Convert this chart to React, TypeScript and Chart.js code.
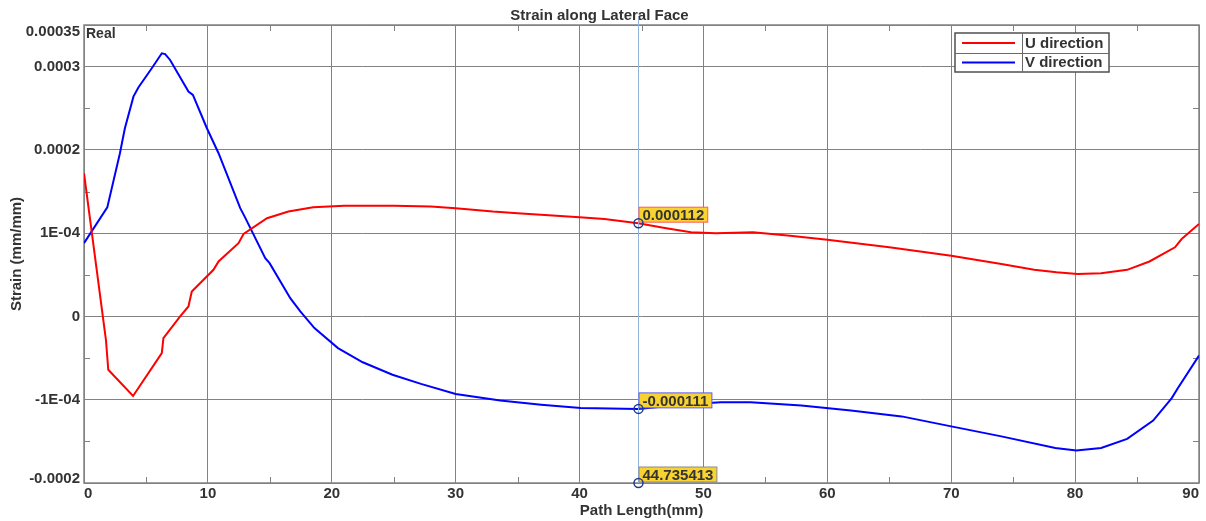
import React, { useEffect, useRef } from 'react';
import { Chart, registerables } from 'chart.js';

Chart.register(...registerables);

const chartTitle = 'Strain along Lateral Face';
const xAxisTitle = 'Path Length(mm)';
const yAxisTitle = 'Strain (mm/mm)';
const cornerLabel = 'Real';
const seriesNames = ['U direction', 'V direction'];
const seriesColors = ['#ff0000', '#0000ff'];

const uPathX = [0, 1.77, 1.96, 3.96, 6.28, 6.41, 7.76, 8.43, 8.7, 10.45, 10.86, 12.47, 12.88, 14.77, 16.5, 18.5, 21, 25, 28, 30, 33, 35, 40, 42, 44.735, 47, 49, 51, 54, 57, 60, 65, 70, 74.05, 76.7, 78.5, 80.2, 82.1, 84.2, 86.0, 88.06, 88.6, 90];
const uStrain = [1.72e-4, -0.28e-4, -0.64e-4, -0.955e-4, -0.44e-4, -0.26e-4, 0, 0.12e-4, 0.3e-4, 0.56e-4, 0.66e-4, 0.88e-4, 0.99e-4, 1.18e-4, 1.26e-4, 1.31e-4, 1.33e-4, 1.33e-4, 1.32e-4, 1.3e-4, 1.26e-4, 1.24e-4, 1.19e-4, 1.17e-4, 1.12e-4, 1.06e-4, 1.01e-4, 1.0e-4, 1.01e-4, 0.97e-4, 0.92e-4, 0.83e-4, 0.73e-4, 0.63e-4, 0.56e-4, 0.53e-4, 0.51e-4, 0.52e-4, 0.56e-4, 0.66e-4, 0.83e-4, 0.93e-4, 1.11e-4];

const vPathX = [0, 1.88, 2.9, 3.3, 3.99, 4.39, 5.47, 6.28, 6.55, 6.95, 8.43, 8.79, 9.92, 10.86, 12.61, 13.0, 14.63, 14.98, 16.65, 17.46, 18.6, 20.5, 22.5, 24.9, 27.2, 30, 33.6, 36.9, 40.1, 44.735, 48.2, 51.4, 53.8, 57.9, 61.9, 66, 70, 74.05, 78.4, 80.1, 82.1, 84.2, 86.3, 87.8, 88.3, 90];
const vStrain = [0.88e-4, 1.31e-4, 1.96e-4, 2.26e-4, 2.64e-4, 2.75e-4, 2.98e-4, 3.16e-4, 3.15e-4, 3.08e-4, 2.7e-4, 2.66e-4, 2.26e-4, 1.96e-4, 1.3e-4, 1.19e-4, 0.7e-4, 0.64e-4, 0.22e-4, 0.06e-4, -0.14e-4, -0.38e-4, -0.55e-4, -0.7e-4, -0.81e-4, -0.93e-4, -1.01e-4, -1.06e-4, -1.1e-4, -1.11e-4, -1.06e-4, -1.03e-4, -1.03e-4, -1.07e-4, -1.13e-4, -1.2e-4, -1.32e-4, -1.44e-4, -1.58e-4, -1.61e-4, -1.58e-4, -1.47e-4, -1.25e-4, -0.98e-4, -0.86e-4, -0.47e-4];

const xTickValues = [0, 10, 20, 30, 40, 50, 60, 70, 80, 90];
const xMinorTicks = [5, 15, 25, 35, 45, 55, 65, 75, 85];
const yTickValues = [0.00035, 0.0003, 0.0002, 0.0001, 0, -0.0001, -0.0002];
const yTickLabels = ['0.00035', '0.0003', '0.0002', '1E-04', '0', '-1E-04', '-0.0002'];
const yMinorTicks = [0.00025, 0.00015, 0.00005, -0.00005, -0.00015];

const cursorX = 44.735413;
const probeValues = [0.000112, -0.000111, -0.0002];
const probeLabels = ['0.000112', '-0.000111', '44.735413'];
const probeBorders = ['#ff5a5a', '#5a5aff', '#8a8a8a'];

const FONT = '"Liberation Sans", Arial, sans-serif';
const TEXT = '#333333';
const GRID = '#828282';

const overlay = {
  id: 'overlay',
  beforeDatasetsDraw(chart: any) {
    const { ctx, chartArea: a } = chart;
    const xs = chart.scales.x;
    const ys = chart.scales.y;
    ctx.save();
    ctx.strokeStyle = GRID;
    ctx.lineWidth = 1;
    ctx.beginPath();
    yMinorTicks.forEach((v) => {
      const y = Math.round(ys.getPixelForValue(v)) + 0.5;
      ctx.moveTo(a.left, y);
      ctx.lineTo(a.left + 6, y);
      ctx.moveTo(a.right - 6, y);
      ctx.lineTo(a.right, y);
    });
    xMinorTicks.forEach((v) => {
      const x = Math.round(xs.getPixelForValue(v)) + 0.5;
      ctx.moveTo(x, a.top);
      ctx.lineTo(x, a.top + 6);
      ctx.moveTo(x, a.bottom - 6);
      ctx.lineTo(x, a.bottom);
    });
    ctx.stroke();
    ctx.lineWidth = 1.5;
    ctx.strokeRect(a.left, a.top, a.right - a.left, a.bottom - a.top);

    ctx.font = `bold 15px ${FONT}`;
    ctx.fillStyle = TEXT;
    ctx.textAlign = 'right';
    ctx.textBaseline = 'middle';
    yTickValues.forEach((v, i) => {
      let y = ys.getPixelForValue(v);
      y = Math.min(Math.max(y, a.top + 7), a.bottom - 4);
      ctx.fillText(yTickLabels[i], a.left - 4, y);
    });
    ctx.textAlign = 'left';
    ctx.font = `bold 14px ${FONT}`;
    ctx.fillText(cornerLabel, a.left + 2, a.top + 9);
    ctx.restore();
  },
  afterDatasetsDraw(chart: any) {
    const { ctx, chartArea: a } = chart;
    const xs = chart.scales.x;
    const ys = chart.scales.y;
    ctx.save();
    const cx = Math.round(xs.getPixelForValue(cursorX)) + 0.5;
    ctx.strokeStyle = '#94b4e0';
    ctx.lineWidth = 1;
    ctx.beginPath();
    ctx.moveTo(cx, a.top - 8);
    ctx.lineTo(cx, a.bottom);
    ctx.stroke();

    ctx.font = `bold 15px ${FONT}`;
    ctx.textBaseline = 'middle';
    ctx.textAlign = 'left';
    probeValues.forEach((v, i) => {
      const py = ys.getPixelForValue(v);
      const w = ctx.measureText(probeLabels[i]).width + 7;
      const bx = cx + 0.5;
      const by = py - 16;
      ctx.fillStyle = '#f7d230';
      ctx.fillRect(bx, by, w, 15);
      ctx.strokeStyle = probeBorders[i];
      ctx.lineWidth = 1;
      ctx.strokeRect(bx, by, w, 15);
      ctx.fillStyle = TEXT;
      ctx.fillText(probeLabels[i], bx + 3.5, by + 8.5);
      ctx.strokeStyle = '#1c3c8c';
      ctx.lineWidth = 1.5;
      ctx.beginPath();
      ctx.arc(cx, py, 4.5, 0, Math.PI * 2);
      ctx.stroke();
    });

    // legend
    const lx = a.right - 244;
    const ly = a.top + 8;
    const lw = 154;
    const lh = 39;
    const colW = 67;
    ctx.fillStyle = '#ffffff';
    ctx.fillRect(lx, ly, lw, lh);
    ctx.strokeStyle = '#505050';
    ctx.lineWidth = 1.5;
    ctx.strokeRect(lx, ly, lw, lh);
    ctx.lineWidth = 1;
    ctx.strokeStyle = '#6a6a6a';
    ctx.beginPath();
    ctx.moveTo(lx + colW + 0.5, ly);
    ctx.lineTo(lx + colW + 0.5, ly + lh);
    ctx.moveTo(lx, ly + 20.5);
    ctx.lineTo(lx + lw, ly + 20.5);
    ctx.stroke();
    seriesNames.forEach((name, i) => {
      const rowY = ly + 10 + i * 19.5;
      ctx.strokeStyle = seriesColors[i];
      ctx.lineWidth = 2;
      ctx.beginPath();
      ctx.moveTo(lx + 7, rowY);
      ctx.lineTo(lx + 60, rowY);
      ctx.stroke();
      ctx.fillStyle = TEXT;
      ctx.font = `bold 15px ${FONT}`;
      ctx.fillText(name, lx + colW + 3, rowY + 0.5);
    });
    ctx.restore();
  },
};

export default function App() {
  const ref = useRef<HTMLCanvasElement | null>(null);
  useEffect(() => {
    if (!ref.current) return;
    const font = { family: FONT, size: 15, weight: 'bold' as const, lineHeight: 1.2 };
    const chart = new Chart(ref.current, {
      type: 'line',
      data: {
        datasets: [
          {
            label: seriesNames[0],
            data: uPathX.map((x, i) => ({ x, y: uStrain[i] })),
            borderColor: seriesColors[0],
            borderWidth: 2,
            pointRadius: 0,
            tension: 0,
            fill: false,
          },
          {
            label: seriesNames[1],
            data: vPathX.map((x, i) => ({ x, y: vStrain[i] })),
            borderColor: seriesColors[1],
            borderWidth: 2,
            pointRadius: 0,
            tension: 0,
            fill: false,
          },
        ],
      },
      options: {
        responsive: false,
        animation: false,
        events: [],
        layout: { padding: { left: 0, right: 7, top: 0, bottom: 0 } },
        plugins: {
          legend: { display: false },
          tooltip: { enabled: false },
          title: {
            display: true,
            text: chartTitle,
            color: TEXT,
            font,
            padding: { top: 7, bottom: 0 },
          },
        },
        scales: {
          x: {
            type: 'linear',
            min: 0,
            max: 90,
            afterBuildTicks: (s: any) => {
              s.ticks = xTickValues.map((value) => ({ value }));
            },
            afterFit: (s: any) => {
              s.height = 38;
            },
            grid: { color: GRID, lineWidth: 1, drawTicks: false },
            border: { display: false },
            ticks: { font, color: TEXT, padding: 2, align: 'inner', maxRotation: 0, autoSkip: false },
            title: { display: true, text: xAxisTitle, color: TEXT, font, padding: { top: 0, bottom: 1 } },
          },
          y: {
            type: 'linear',
            min: -0.0002,
            max: 0.00035,
            afterBuildTicks: (s: any) => {
              s.ticks = yTickValues.map((value) => ({ value }));
            },
            afterFit: (s: any) => {
              s.width = 84;
            },
            grid: { color: GRID, lineWidth: 1, drawTicks: false },
            border: { display: false },
            ticks: { display: false },
            title: { display: true, text: yAxisTitle, color: TEXT, font, padding: { top: 7.5, bottom: 0 } },
          },
        },
      } as any,
      plugins: [overlay],
    });
    return () => chart.destroy();
  }, []);
  return (
    <div style={{ position: 'absolute', left: 0, top: 0, width: 1206, height: 521, background: '#fff' }}>
      <canvas ref={ref} width={1206} height={521} style={{ display: 'block' }} />
    </div>
  );
}
